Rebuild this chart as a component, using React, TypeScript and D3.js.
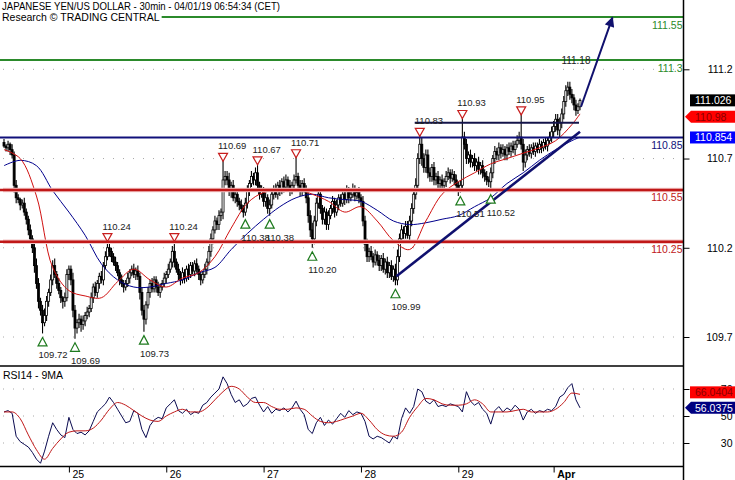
import { useEffect, useRef } from "react";
import * as d3 from "d3";

// USD/JPY 30min closes, one per bar (open = previous close)
const closes = [
  110.77, 110.76, 110.78, 110.75, 110.72, 110.55, 110.48, 110.47, 110.44, 110.45,
  110.40, 110.36, 110.30, 110.25, 110.20, 110.10, 110.00, 109.90, 109.85, 109.78,
  109.82, 109.90, 109.95, 110.02, 110.10, 110.05, 110.00, 109.96, 109.92, 109.90,
  109.92, 110.05, 110.08, 110.02, 109.85, 109.75, 109.78, 109.80, 109.77, 109.79,
  109.82, 109.84, 109.86, 109.92, 109.98, 109.95, 110.00, 110.04, 110.02, 110.10,
  110.15, 110.20, 110.18, 110.15, 110.12, 110.10, 110.06, 110.02, 110.00, 109.98,
  110.00, 110.03, 110.06, 110.08, 110.05, 110.07, 110.04, 109.95, 109.85, 109.80,
  109.88, 109.95, 110.00, 109.97, 110.02, 109.98, 109.95, 109.98, 110.00, 110.03,
  110.05, 110.08, 110.12, 110.18, 110.12, 110.08, 110.05, 110.02, 110.06, 110.03,
  110.08, 110.05, 110.10, 110.07, 110.11, 110.08, 110.05, 110.02, 110.05, 110.08,
  110.12, 110.18, 110.25, 110.30, 110.35, 110.33, 110.38, 110.40, 110.58, 110.60,
  110.58, 110.52, 110.55, 110.48, 110.50, 110.46, 110.44, 110.42, 110.40, 110.45,
  110.52, 110.56, 110.60, 110.58, 110.62, 110.55, 110.50, 110.52, 110.46, 110.48,
  110.42, 110.44, 110.50, 110.53, 110.50, 110.55, 110.52, 110.57, 110.54, 110.58,
  110.55, 110.52, 110.55, 110.58, 110.60, 110.55, 110.52, 110.56, 110.53, 110.48,
  110.38, 110.30, 110.25, 110.35, 110.45, 110.50, 110.42, 110.36, 110.40, 110.33,
  110.38, 110.42, 110.46, 110.40, 110.44, 110.48, 110.45, 110.50, 110.47, 110.52,
  110.48, 110.50, 110.53, 110.49, 110.51, 110.48, 110.46, 110.35, 110.22, 110.15,
  110.18, 110.15, 110.12, 110.16, 110.13, 110.10, 110.14, 110.08, 110.12, 110.06,
  110.10, 110.04, 110.08, 110.02, 110.15, 110.25, 110.30, 110.28, 110.32, 110.27,
  110.35, 110.42, 110.50, 110.55, 110.70, 110.78, 110.70, 110.65, 110.72, 110.62,
  110.60, 110.65, 110.58, 110.60, 110.56, 110.58, 110.55, 110.57, 110.60, 110.62,
  110.59, 110.61, 110.58, 110.55, 110.52, 110.55, 110.82, 110.78, 110.70, 110.72,
  110.68, 110.70, 110.66, 110.68, 110.64, 110.66, 110.62, 110.60, 110.58, 110.57,
  110.62, 110.70, 110.74, 110.72, 110.76, 110.73, 110.75, 110.72, 110.76, 110.74,
  110.77, 110.75, 110.78, 110.80, 110.82, 110.78, 110.68, 110.72, 110.75, 110.73,
  110.76, 110.74, 110.77, 110.75, 110.78, 110.76, 110.79, 110.77, 110.80, 110.82,
  110.85, 110.88, 110.92, 110.86, 110.90, 110.95, 111.02, 111.08, 111.10, 111.06,
  111.04, 111.00, 110.97, 110.99, 111.026,
];
const firstOpen = 110.79;

// wick lengths above / below the body, in hundredths of a yen
const upWicks = [
  2, 1, 2, 1, 3, 2, 3, 2, 1, 2, 3, 2, 2, 3, 2, 3, 4, 3, 2, 3,
  4, 3, 2, 3, 3, 4, 2, 3, 2, 1, 3, 3, 2, 2, 4, 3, 2, 3, 2, 3,
  2, 3, 2, 3, 2, 3, 2, 2, 3, 2, 3, 4, 3, 2, 2, 3, 2, 2, 3, 2,
  2, 3, 2, 2, 3, 2, 3, 2, 3, 3, 2, 3, 2, 3, 2, 2, 3, 2, 2, 3,
  2, 3, 2, 3, 2, 2, 3, 2, 3, 2, 2, 3, 2, 2, 2, 3, 2, 2, 2, 3,
  2, 3, 3, 2, 3, 2, 3, 2, 3, 3, 3, 4, 2, 3, 2, 3, 2, 3, 2, 3,
  3, 2, 3, 2, 3, 3, 2, 3, 2, 3, 2, 3, 3, 2, 3, 2, 3, 2, 3, 3,
  2, 3, 2, 3, 3, 2, 3, 2, 3, 2, 3, 3, 4, 3, 3, 2, 3, 2, 3, 2,
  3, 2, 3, 2, 3, 2, 2, 3, 2, 3, 2, 2, 3, 2, 2, 3, 2, 3, 3, 3,
  2, 3, 2, 3, 2, 3, 2, 3, 2, 3, 2, 3, 2, 3, 4, 3, 3, 2, 3, 3,
  3, 3, 3, 4, 3, 3, 4, 3, 3, 3, 3, 2, 3, 2, 3, 2, 3, 2, 3, 3,
  2, 3, 2, 3, 2, 3, 3, 3, 3, 2, 3, 2, 3, 2, 3, 2, 3, 2, 3, 2,
  3, 2, 3, 2, 3, 2, 3, 2, 2, 3, 2, 3, 2, 3, 3, 3, 3, 3, 2, 3,
  2, 3, 2, 2, 3, 2, 2, 3, 2, 3, 3, 3, 3, 3, 3, 3, 3, 3, 3, 3,
  3, 2, 3, 2, 1,
];
const downWicks = [
  1, 2, 2, 3, 2, 4, 3, 2, 3, 2, 2, 3, 3, 2, 3, 4, 3, 4, 3, 4,
  2, 3, 3, 2, 3, 2, 3, 2, 3, 4, 3, 2, 3, 3, 4, 4, 3, 3, 4, 3,
  3, 2, 3, 2, 3, 2, 3, 3, 2, 3, 2, 2, 3, 3, 2, 3, 2, 3, 2, 3,
  2, 2, 3, 2, 2, 3, 2, 4, 3, 4, 3, 2, 3, 2, 2, 3, 2, 3, 2, 2,
  3, 2, 2, 3, 3, 2, 3, 3, 2, 3, 2, 3, 2, 2, 3, 2, 3, 3, 2, 2,
  3, 2, 3, 3, 2, 3, 3, 3, 4, 3, 3, 3, 4, 2, 3, 3, 3, 2, 3, 3,
  3, 3, 2, 3, 3, 3, 3, 2, 3, 3, 3, 3, 2, 3, 2, 3, 3, 2, 3, 2,
  3, 3, 2, 3, 2, 3, 3, 3, 2, 3, 4, 4, 3, 3, 3, 3, 3, 3, 3, 3,
  3, 2, 3, 3, 2, 3, 2, 2, 3, 2, 3, 2, 2, 3, 2, 3, 3, 3, 4, 3,
  3, 2, 3, 2, 3, 3, 3, 2, 3, 3, 3, 2, 3, 3, 3, 3, 2, 3, 3, 2,
  3, 3, 3, 3, 3, 3, 4, 3, 3, 3, 3, 3, 3, 3, 3, 3, 3, 3, 3, 2,
  3, 2, 3, 3, 3, 3, 3, 3, 3, 3, 3, 3, 3, 3, 3, 3, 3, 3, 3, 3,
  3, 3, 3, 3, 3, 3, 2, 3, 3, 2, 3, 2, 3, 2, 2, 3, 5, 3, 3, 2,
  3, 2, 3, 2, 2, 3, 2, 2, 3, 2, 3, 3, 3, 3, 4, 3, 3, 3, 3, 3,
  3, 3, 3, 2, 2,
];

// moving averages read every 8 bars (last sample = last bar)
const maStep = 8;
const maFast = [
  110.75, 110.70, 110.49, 110.09, 109.96, 109.93, 109.92, 110.01, 110.08, 110.02,
  109.98, 110.03, 110.06, 110.15, 110.31, 110.45, 110.51, 110.52, 110.53, 110.50,
  110.46, 110.40, 110.43, 110.35, 110.24, 110.19, 110.35, 110.50, 110.57, 110.62,
  110.67, 110.70, 110.73, 110.76, 110.80, 110.89, 110.95,
];
const maSlow = [
  110.66, 110.69, 110.66, 110.52, 110.40, 110.27, 110.11, 110.02, 109.98, 109.98,
  110.00, 110.02, 110.06, 110.09, 110.19, 110.28, 110.36, 110.43, 110.48, 110.50,
  110.48, 110.47, 110.46, 110.41, 110.35, 110.33, 110.34, 110.36, 110.38, 110.43,
  110.48, 110.56, 110.62, 110.69, 110.75, 110.80, 110.82,
];

// RSI14 read every 2 bars, its 9MA every 4 bars
const rsiStep = 2;
const rsi = [
  53, 54, 52, 35, 31, 29, 27, 23, 18, 15,
  24, 35, 45, 40, 36, 34, 49, 40, 37, 38,
  36, 39, 46, 53, 56, 59, 64, 60, 55, 50,
  45, 46, 54, 52, 40, 34, 43, 47, 49, 48,
  56, 59, 62, 54, 52, 55, 51, 53, 52, 58,
  60, 64, 67, 70, 79, 74, 66, 60, 62, 57,
  59, 63, 64, 58, 53, 57, 52, 55, 54, 56,
  53, 56, 61, 55, 51, 40, 37, 45, 49, 43,
  47, 44, 48, 52, 49, 54, 51, 53, 52, 46,
  35, 33, 35, 34, 32, 30, 35, 33, 48, 56,
  52, 57, 70, 68, 61, 59, 62, 57, 58, 57,
  59, 58, 57, 53, 68, 61, 58, 60, 55, 52,
  44, 54, 57, 53, 56, 54, 58, 55, 47, 53,
  55, 52, 54, 53, 55, 54, 57, 64, 66, 71,
  74, 62, 56.04,
];
const rsiMaStep = 4;
const rsiMa = [
  53, 53, 48, 36, 25, 18, 26, 33, 38, 39,
  39, 41, 47, 55, 60, 58, 54, 50, 47, 46,
  50, 53, 55, 53, 53, 56, 62, 68, 72, 70,
  64, 60, 60, 57, 55, 55, 56, 55, 50, 46,
  45, 46, 48, 50, 52, 47, 40, 36, 35, 38,
  49, 57, 63, 62, 59, 58, 58, 59, 62, 59,
  53, 53, 53, 54, 55, 53, 53, 53, 55, 60,
  67, 66.04,
];

// axes
const dayTicks = [32, 80, 128, 176, 224, 271];
const dayLabels = ["25", "26", "27", "28", "29", "Apr"];
const priceTicks = [111.2, 110.7, 110.2, 109.7];
const rsiTicks = [70, 50, 30];

// horizontal levels
const levelValues = [111.493, 111.252, 110.818, 110.524, 110.234];
const levelLabels = ["111.55", "111.3", "110.85", "110.55", "110.25"];
const levelColors = ["#2b8a2b", "#2b8a2b", "#10107a", "#c01818", "#c01818"];

// swing markers
const highBars = [51, 84, 108, 125, 144, 205, 226, 255];
const highValues = [110.24, 110.24, 110.69, 110.67, 110.71, 110.83, 110.93, 110.95];
const lowBars = [19, 35, 69, 119, 131, 152, 193, 225, 240];
const lowValues = [109.72, 109.69, 109.73, 110.38, 110.38, 110.2, 109.99, 110.51, 110.52];

// drawn lines (bar, price)
const trendLine: [number, number][] = [[193.5, 110.04], [284, 110.85]];
const resistanceLine: [number, number][] = [[202.5, 110.9], [283.5, 110.9]];
const arrowLine: [number, number][] = [[284.5, 110.99], [300, 111.49]];
const targetText = "111.18";
const targetBar = 282;

// right-hand value flags
const priceFlagValues = [111.026, 110.98, 110.854];
const priceFlagLabels = ["111.026", "110.98", "110.854"];
const rsiFlagValues = [66.0404, 56.0375];
const rsiFlagLabels = ["66.0404", "56.0375"];

const W = 735;
const H = 480;
const FONT = '"Liberation Sans", Arial, sans-serif';

export default function App() {
  const ref = useRef<SVGSVGElement | null>(null);

  useEffect(() => {
    if (!ref.current) return;
    const svg = d3.select(ref.current).html("");
    svg.append("rect").attr("width", W).attr("height", H).attr("fill", "#fff");

    const last = closes.length - 1;
    const axisX = 683.5;
    const mainBottom = 366;
    const rsiBottom = 466.5;

    const x = d3.scaleLinear().domain([0, last]).range([4, 580]);
    const y = d3.scaleLinear().domain([109.7, 111.2]).range([337, 69.3]);
    const yR = d3.scaleLinear().domain([30, 70]).range([443, 389]);

    // dotted grid
    const grid = svg.append("g").attr("stroke", "#a8a8a8").attr("stroke-dasharray", "1 9");
    priceTicks.forEach((v) =>
      grid.append("line").attr("x1", 3).attr("x2", axisX - 2).attr("y1", y(v)).attr("y2", y(v))
    );
    rsiTicks.forEach((v) =>
      grid.append("line").attr("x1", 3).attr("x2", axisX - 2).attr("y1", yR(v)).attr("y2", yR(v))
    );

    // candles
    const bars = closes.map((c, i) => {
      const o = i === 0 ? firstOpen : closes[i - 1];
      return {
        i,
        o,
        c,
        hi: Math.max(o, c) + upWicks[i] / 100,
        lo: Math.min(o, c) - downWicks[i] / 100,
      };
    });
    highBars.forEach((b, k) => (bars[b].hi = highValues[k]));
    lowBars.forEach((b, k) => (bars[b].lo = lowValues[k]));

    const candles = svg.append("g");
    candles
      .selectAll("line")
      .data(bars)
      .join("line")
      .attr("x1", (d) => x(d.i))
      .attr("x2", (d) => x(d.i))
      .attr("y1", (d) => y(d.hi))
      .attr("y2", (d) => y(d.lo))
      .attr("stroke", "#000")
      .attr("stroke-width", 1.1);
    candles
      .selectAll("rect")
      .data(bars)
      .join("rect")
      .attr("x", (d) => x(d.i) - 1)
      .attr("width", 2)
      .attr("y", (d) => y(Math.max(d.o, d.c)))
      .attr("height", (d) => Math.max(1, Math.abs(y(d.o) - y(d.c))))
      .attr("fill", (d) => (d.c >= d.o ? "#fff" : "#000"))
      .attr("stroke", "#000")
      .attr("stroke-width", 0.8);

    // moving averages
    const maBar = (k: number) => Math.min(k * maStep, last);
    const maLine = d3
      .line<number>()
      .x((_, k) => x(maBar(k)))
      .y((d) => y(d))
      .curve(d3.curveCatmullRom);
    svg.append("path").attr("d", maLine(maSlow)).attr("fill", "none").attr("stroke", "#00008c").attr("stroke-width", 1);
    svg.append("path").attr("d", maLine(maFast)).attr("fill", "none").attr("stroke", "#d01010").attr("stroke-width", 1);

    // level lines
    levelValues.forEach((v, k) => {
      const isRed = levelColors[k] === "#c01818";
      if (isRed) {
        svg.append("line").attr("x1", 3).attr("x2", axisX).attr("y1", y(v)).attr("y2", y(v))
          .attr("stroke", "#f3c6c6").attr("stroke-width", 4.5);
      }
      svg.append("line").attr("x1", 0).attr("x2", axisX).attr("y1", y(v)).attr("y2", y(v))
        .attr("stroke", levelColors[k]).attr("stroke-width", isRed ? 2.4 : 2);
      svg.append("text").attr("x", axisX - 1).attr("y", y(v) + 11.5).attr("text-anchor", "end")
        .attr("fill", levelColors[k]).attr("font-size", 10.5).attr("font-family", FONT).text(levelLabels[k]);
    });

    // trend / resistance / arrow
    const seg = d3.line<[number, number]>().x((d) => x(d[0])).y((d) => y(d[1]));
    svg.append("path").attr("d", seg(resistanceLine)).attr("stroke", "#14144a").attr("stroke-width", 2).attr("fill", "none");
    svg.append("path").attr("d", seg(trendLine)).attr("stroke", "#10106e").attr("stroke-width", 2.6).attr("fill", "none");
    svg.append("defs").append("marker")
      .attr("id", "ahead").attr("viewBox", "0 0 10 10").attr("refX", 9).attr("refY", 5)
      .attr("markerWidth", 6).attr("markerHeight", 5).attr("orient", "auto")
      .append("path").attr("d", "M0,0 L10,5 L0,10 Z").attr("fill", "#10106e");
    svg.append("path").attr("d", seg(arrowLine)).attr("stroke", "#10106e").attr("stroke-width", 2)
      .attr("fill", "none").attr("marker-end", "url(#ahead)");

    svg.append("text").attr("x", x(targetBar)).attr("y", y(levelValues[1]) + 3.5).attr("text-anchor", "middle")
      .attr("font-size", 10).attr("font-family", FONT).attr("fill", "#222").text(targetText);

    // swing markers
    const fmt = d3.format(".2f");
    const mk = svg.append("g").attr("font-family", FONT).attr("font-size", 9.5).attr("fill", "#222");
    highBars.forEach((b, k) => {
      const cx = x(b);
      const ty = y(highValues[k]) + 1;
      mk.append("path")
        .attr("d", `M${cx - 4.5},${ty - 8} L${cx + 4.5},${ty - 8} L${cx},${ty} Z`)
        .attr("fill", "#fff").attr("stroke", "#c81e1e").attr("stroke-width", 1.2);
      mk.append("text").attr("x", cx - 5).attr("y", ty - 12).text(fmt(highValues[k]));
    });
    lowBars.forEach((b, k) => {
      const cx = x(b);
      const ty = y(lowValues[k]) + 4;
      mk.append("path")
        .attr("d", `M${cx},${ty} L${cx + 4.5},${ty + 8.5} L${cx - 4.5},${ty + 8.5} Z`)
        .attr("fill", "#fff").attr("stroke", "#1e7a1e").attr("stroke-width", 1.2);
      mk.append("text").attr("x", cx - 4).attr("y", ty + 21).text(fmt(lowValues[k]));
    });

    // header
    const head = svg.append("g").attr("font-family", FONT).attr("font-size", 10.5).attr("fill", "#000");
    const bg = head.append("rect").attr("fill", "#fff");
    head.append("text").attr("x", 2).attr("y", 10)
      .attr("textLength", 278).attr("lengthAdjust", "spacingAndGlyphs")
      .text("JAPANESE YEN/US DOLLAR - 30min - 04/01/19 06:54:34 (CET)");
    const t2 = head.append("text").attr("x", 2).attr("y", 21).text("Research © TRADING CENTRAL");
    const bb = (t2.node() as SVGTextElement).getBBox();
    bg.attr("x", 0).attr("y", 0).attr("width", bb.x + bb.width + 2).attr("height", bb.y + bb.height + 1);

    // RSI panel
    const rsiPath = d3.line<number>().x((_, k) => x(k * rsiStep)).y((d) => yR(d));
    svg.append("path").attr("d", rsiPath(rsi)).attr("fill", "none").attr("stroke", "#0a0a50").attr("stroke-width", 1);
    const rsiMaPath = d3.line<number>().x((_, k) => x(k * rsiMaStep)).y((d) => yR(d)).curve(d3.curveMonotoneX);
    svg.append("path").attr("d", rsiMaPath(rsiMa)).attr("fill", "none").attr("stroke", "#c01818").attr("stroke-width", 1);
    svg.append("text").attr("x", 3).attr("y", 379).attr("font-family", FONT).attr("font-size", 10.5).text("RSI14 - 9MA");

    // frame
    svg.append("line").attr("x1", 0).attr("x2", axisX).attr("y1", mainBottom).attr("y2", mainBottom).attr("stroke", "#000").attr("stroke-width", 1.5);
    svg.append("line").attr("x1", 0).attr("x2", axisX).attr("y1", rsiBottom).attr("y2", rsiBottom).attr("stroke", "#000").attr("stroke-width", 1.5);
    svg.append("line").attr("x1", axisX).attr("x2", axisX).attr("y1", 0).attr("y2", H).attr("stroke", "#000").attr("stroke-width", 1.5);

    // axes
    const styleAxis = (g: d3.Selection<SVGGElement, unknown, null, undefined>) => {
      g.select(".domain").remove();
      g.attr("font-family", FONT).attr("font-size", 10.5);
      g.selectAll(".tick line").attr("stroke", "#000");
      g.selectAll(".tick text").attr("fill", "#000");
    };
    const yAxis = svg.append("g").attr("transform", `translate(${axisX},0)`)
      .call(d3.axisRight(y).tickValues(priceTicks).tickSize(6).tickFormat(d3.format(".1f")));
    styleAxis(yAxis);
    yAxis.selectAll(".tick text").attr("text-anchor", "end").attr("x", 49);
    const rAxis = svg.append("g").attr("transform", `translate(${axisX},0)`)
      .call(d3.axisRight(yR).tickValues(rsiTicks).tickSize(6).tickFormat(d3.format("d")));
    styleAxis(rAxis);
    rAxis.selectAll(".tick text").attr("text-anchor", "end").attr("x", 49);

    const xAxis = svg.append("g").attr("transform", `translate(0,${rsiBottom})`)
      .call(d3.axisBottom(x).tickValues(dayTicks).tickSize(6).tickFormat((_, i) => dayLabels[i]));
    styleAxis(xAxis);
    xAxis.selectAll<SVGTextElement, number>(".tick text")
      .attr("text-anchor", "start").attr("x", 3).attr("y", 11.5).attr("dy", 0)
      .attr("font-weight", (_, i) => (dayLabels[i] === "Apr" ? "bold" : "normal"));

    // value flags
    const flag = (cy: number, label: string, fill: string, color: string, arrow: boolean) => {
      const g = svg.append("g");
      if (arrow) {
        g.append("path").attr("d", `M685,${cy} L691,${cy - 6} L735,${cy - 6} L735,${cy + 6} L691,${cy + 6} Z`).attr("fill", fill);
      } else {
        g.append("rect").attr("x", 690).attr("y", cy - 6).attr("width", 45).attr("height", 12).attr("fill", fill);
      }
      g.append("text").attr("x", 695).attr("y", cy + 4).attr("font-family", FONT).attr("font-size", 10.5)
        .attr("fill", color).text(label);
    };
    let prev = -Infinity;
    const pf = [y(priceFlagValues[0]), y(priceFlagValues[1]), y(levelValues[2])].map((v) => {
      const cy = Math.max(v, prev + 16.5);
      prev = cy;
      return cy;
    });
    flag(pf[0], priceFlagLabels[0], "#000", "#fff", false);
    flag(pf[1], priceFlagLabels[1], "#ff0000", "#8a0000", true);
    flag(pf[2], priceFlagLabels[2], "#0000ff", "#fff", false);
    flag(yR(rsiFlagValues[0]) - 2, rsiFlagLabels[0], "#ff0000", "#8a0000", false);
    flag(yR(rsiFlagValues[1]), rsiFlagLabels[1], "#000080", "#fff", true);
  }, []);

  return (
    <svg
      ref={ref}
      width={W}
      height={H}
      style={{ position: "absolute", left: 0, top: 0, display: "block" }}
    />
  );
}
